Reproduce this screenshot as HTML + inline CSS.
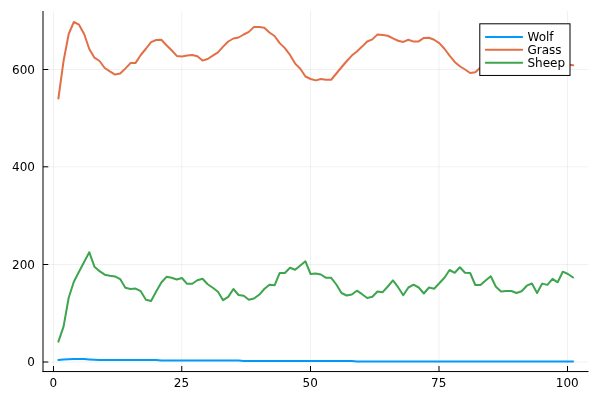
<!DOCTYPE html>
<html><head><meta charset="utf-8"><style>
html,body{margin:0;padding:0;background:#fff;}
svg{display:block;will-change:transform;}
text{font-family:"DejaVu Sans","Liberation Sans",sans-serif;fill:#000;}
</style></head><body>
<svg width="600" height="400" viewBox="0 0 600 400">
<rect x="0" y="0" width="600" height="400" fill="#fff"/>
<g stroke="#000" stroke-opacity="0.055" stroke-width="1" fill="none">
<line x1="53.50" y1="11" x2="53.50" y2="371" />
<line x1="181.75" y1="11" x2="181.75" y2="371" />
<line x1="310.50" y1="11" x2="310.50" y2="371" />
<line x1="439.00" y1="11" x2="439.00" y2="371" />
<line x1="567.50" y1="11" x2="567.50" y2="371" />
<line x1="43" y1="362.00" x2="588.5" y2="362.00" />
<line x1="43" y1="264.50" x2="588.5" y2="264.50" />
<line x1="43" y1="166.80" x2="588.5" y2="166.80" />
<line x1="43" y1="69.50" x2="588.5" y2="69.50" />
</g>
<g fill="none" stroke-width="2.0" stroke-linejoin="round" stroke-linecap="round">
<path stroke="#009afa" d="M58.40,360.00 L63.55,359.50 L68.69,359.20 L73.84,359.00 L78.99,359.00 L84.14,359.00 L89.28,359.40 L94.43,359.75 L99.58,360.05 L104.72,360.05 L109.87,360.05 L115.02,360.05 L120.16,360.05 L125.31,360.05 L130.46,360.05 L135.61,360.05 L140.75,360.05 L145.90,360.05 L151.05,360.05 L156.19,360.05 L161.34,360.55 L166.49,360.55 L171.63,360.55 L176.78,360.55 L181.93,360.55 L187.07,360.55 L192.22,360.55 L197.37,360.55 L202.52,360.55 L207.66,360.55 L212.81,360.55 L217.96,360.55 L223.10,360.55 L228.25,360.55 L233.40,360.55 L238.55,360.55 L243.69,361.00 L248.84,361.00 L253.99,361.00 L259.13,361.00 L264.28,361.00 L269.43,361.00 L274.57,361.00 L279.72,361.00 L284.87,361.00 L290.01,361.00 L295.16,361.00 L300.31,361.00 L305.46,361.00 L310.60,361.00 L315.75,361.00 L320.90,361.00 L326.04,361.00 L331.19,361.00 L336.34,361.00 L341.49,361.00 L346.63,361.00 L351.78,361.00 L356.93,361.45 L362.07,361.45 L367.22,361.45 L372.37,361.45 L377.51,361.45 L382.66,361.45 L387.81,361.45 L392.95,361.45 L398.10,361.45 L403.25,361.45 L408.40,361.45 L413.54,361.45 L418.69,361.45 L423.84,361.45 L428.98,361.45 L434.13,361.45 L439.28,361.45 L444.43,361.45 L449.57,361.45 L454.72,361.45 L459.87,361.45 L465.01,361.45 L470.16,361.45 L475.31,361.45 L480.45,361.45 L485.60,361.45 L490.75,361.45 L495.89,361.45 L501.04,361.45 L506.19,361.45 L511.34,361.45 L516.48,361.45 L521.63,361.45 L526.78,361.45 L531.92,361.45 L537.07,361.45 L542.22,361.45 L547.37,361.45 L552.51,361.45 L557.66,361.45 L562.81,361.45 L567.95,361.45 L573.10,361.45"/>
<path stroke="#e36f47" d="M58.40,98.50 L63.55,61.00 L68.69,34.00 L73.84,22.00 L78.99,24.70 L84.14,34.00 L89.28,49.00 L94.43,57.70 L99.58,61.00 L104.72,68.00 L109.87,71.40 L115.02,74.60 L120.16,73.50 L125.31,68.60 L130.46,63.10 L135.61,62.90 L140.75,55.00 L145.90,48.75 L151.05,42.10 L156.19,40.00 L161.34,39.75 L166.49,45.20 L171.63,50.30 L176.78,55.90 L181.93,56.50 L187.07,55.60 L192.22,55.00 L197.37,56.30 L202.52,60.60 L207.66,59.00 L212.81,55.60 L217.96,52.30 L223.10,46.60 L228.25,41.50 L233.40,38.50 L238.55,37.50 L243.69,34.50 L248.84,31.90 L253.99,26.90 L259.13,27.00 L264.28,27.75 L269.43,32.50 L274.57,36.00 L279.72,43.10 L284.87,48.10 L290.01,54.90 L295.16,63.60 L300.31,68.75 L305.46,76.50 L310.60,79.00 L315.75,80.40 L320.90,79.00 L326.04,79.75 L331.19,79.75 L336.34,73.50 L341.49,67.25 L346.63,61.25 L351.78,55.60 L356.93,51.40 L362.07,46.60 L367.22,41.50 L372.37,39.40 L377.51,34.40 L382.66,35.00 L387.81,35.75 L392.95,38.40 L398.10,40.75 L403.25,41.90 L408.40,39.75 L413.54,41.60 L418.69,41.40 L423.84,37.90 L428.98,37.80 L434.13,39.75 L439.28,43.10 L444.43,48.75 L449.57,55.60 L454.72,61.90 L459.87,66.25 L465.01,69.50 L470.16,73.00 L475.31,72.25 L480.45,67.50 L485.60,67.36 L490.75,67.22 L495.89,67.08 L501.04,66.94 L506.19,66.81 L511.34,66.67 L516.48,66.53 L521.63,66.39 L526.78,66.25 L531.92,66.11 L537.07,65.97 L542.22,65.83 L547.37,65.69 L552.51,65.56 L557.66,65.42 L562.81,65.28 L567.95,64.40 L573.10,65.25"/>
<path stroke="#3ea44e" d="M58.40,341.60 L63.55,326.60 L68.69,297.80 L73.84,281.70 L78.99,271.80 L84.14,262.00 L89.28,252.20 L94.43,266.70 L99.58,271.20 L104.72,274.70 L109.87,275.70 L115.02,276.40 L120.16,279.10 L125.31,287.80 L130.46,289.00 L135.61,288.60 L140.75,291.20 L145.90,299.80 L151.05,301.00 L156.19,291.50 L161.34,282.50 L166.49,276.80 L171.63,277.80 L176.78,279.50 L181.93,278.00 L187.07,283.80 L192.22,283.80 L197.37,280.20 L202.52,278.80 L207.66,284.20 L212.81,287.80 L217.96,291.80 L223.10,300.20 L228.25,296.90 L233.40,289.00 L238.55,295.00 L243.69,295.80 L248.84,299.80 L253.99,298.50 L259.13,294.80 L264.28,289.00 L269.43,284.70 L274.57,285.30 L279.72,272.90 L284.87,273.00 L290.01,267.80 L295.16,269.80 L300.31,265.50 L305.46,261.30 L310.60,274.00 L315.75,273.50 L320.90,274.50 L326.04,277.80 L331.19,277.80 L336.34,284.50 L341.49,293.00 L346.63,295.50 L351.78,294.50 L356.93,290.70 L362.07,294.20 L367.22,298.00 L372.37,296.80 L377.51,291.50 L382.66,292.20 L387.81,286.50 L392.95,280.40 L398.10,287.20 L403.25,295.20 L408.40,287.50 L413.54,284.70 L418.69,287.50 L423.84,293.50 L428.98,287.50 L434.13,288.70 L439.28,283.30 L444.43,277.70 L449.57,270.00 L454.72,272.80 L459.87,267.20 L465.01,272.80 L470.16,273.00 L475.31,285.00 L480.45,285.00 L485.60,280.50 L490.75,276.30 L495.89,286.80 L501.04,291.40 L506.19,291.00 L511.34,291.00 L516.48,293.00 L521.63,291.20 L526.78,285.70 L531.92,283.50 L537.07,293.00 L542.22,283.60 L547.37,284.90 L552.51,278.80 L557.66,282.30 L562.81,271.70 L567.95,274.00 L573.10,277.50"/>
</g>
<g stroke="#000" stroke-width="1" fill="none">
<line x1="43" y1="11" x2="43" y2="372" />
<line x1="42.5" y1="371.55" x2="588.5" y2="371.55" />
<line x1="53.50" y1="371.5" x2="53.50" y2="366" />
<line x1="181.75" y1="371.5" x2="181.75" y2="366" />
<line x1="310.50" y1="371.5" x2="310.50" y2="366" />
<line x1="439.00" y1="371.5" x2="439.00" y2="366" />
<line x1="567.50" y1="371.5" x2="567.50" y2="366" />
<line x1="43" y1="362.00" x2="48.3" y2="362.00" />
<line x1="43" y1="264.50" x2="48.3" y2="264.50" />
<line x1="43" y1="166.80" x2="48.3" y2="166.80" />
<line x1="43" y1="69.50" x2="48.3" y2="69.50" />
</g>
<g font-size="12">
<text x="53.25" y="387" text-anchor="middle">0</text>
<text x="181.50" y="387" text-anchor="middle">25</text>
<text x="310.25" y="387" text-anchor="middle">50</text>
<text x="438.75" y="387" text-anchor="middle">75</text>
<text x="567.25" y="387" text-anchor="middle">100</text>
<text x="35" y="366.40" text-anchor="end">0</text>
<text x="35" y="268.90" text-anchor="end">200</text>
<text x="35" y="171.20" text-anchor="end">400</text>
<text x="35" y="73.90" text-anchor="end">600</text>
</g>
<rect x="479.8" y="23.8" width="90.2" height="51.65" fill="#fff" stroke="#000" stroke-width="1"/>
<g stroke-width="2.0" stroke-linecap="round">
<line x1="485.8" y1="36.9" x2="522.2" y2="36.9" stroke="#009afa"/>
<line x1="485.8" y1="49.65" x2="522.2" y2="49.65" stroke="#e36f47"/>
<line x1="485.8" y1="62.65" x2="522.2" y2="62.65" stroke="#3ea44e"/>
</g>
<g font-size="12">
<text x="527.5" y="41.0">Wolf</text>
<text x="527.5" y="53.65">Grass</text>
<text x="527.5" y="67">Sheep</text>
</g>
</svg>
</body></html>
